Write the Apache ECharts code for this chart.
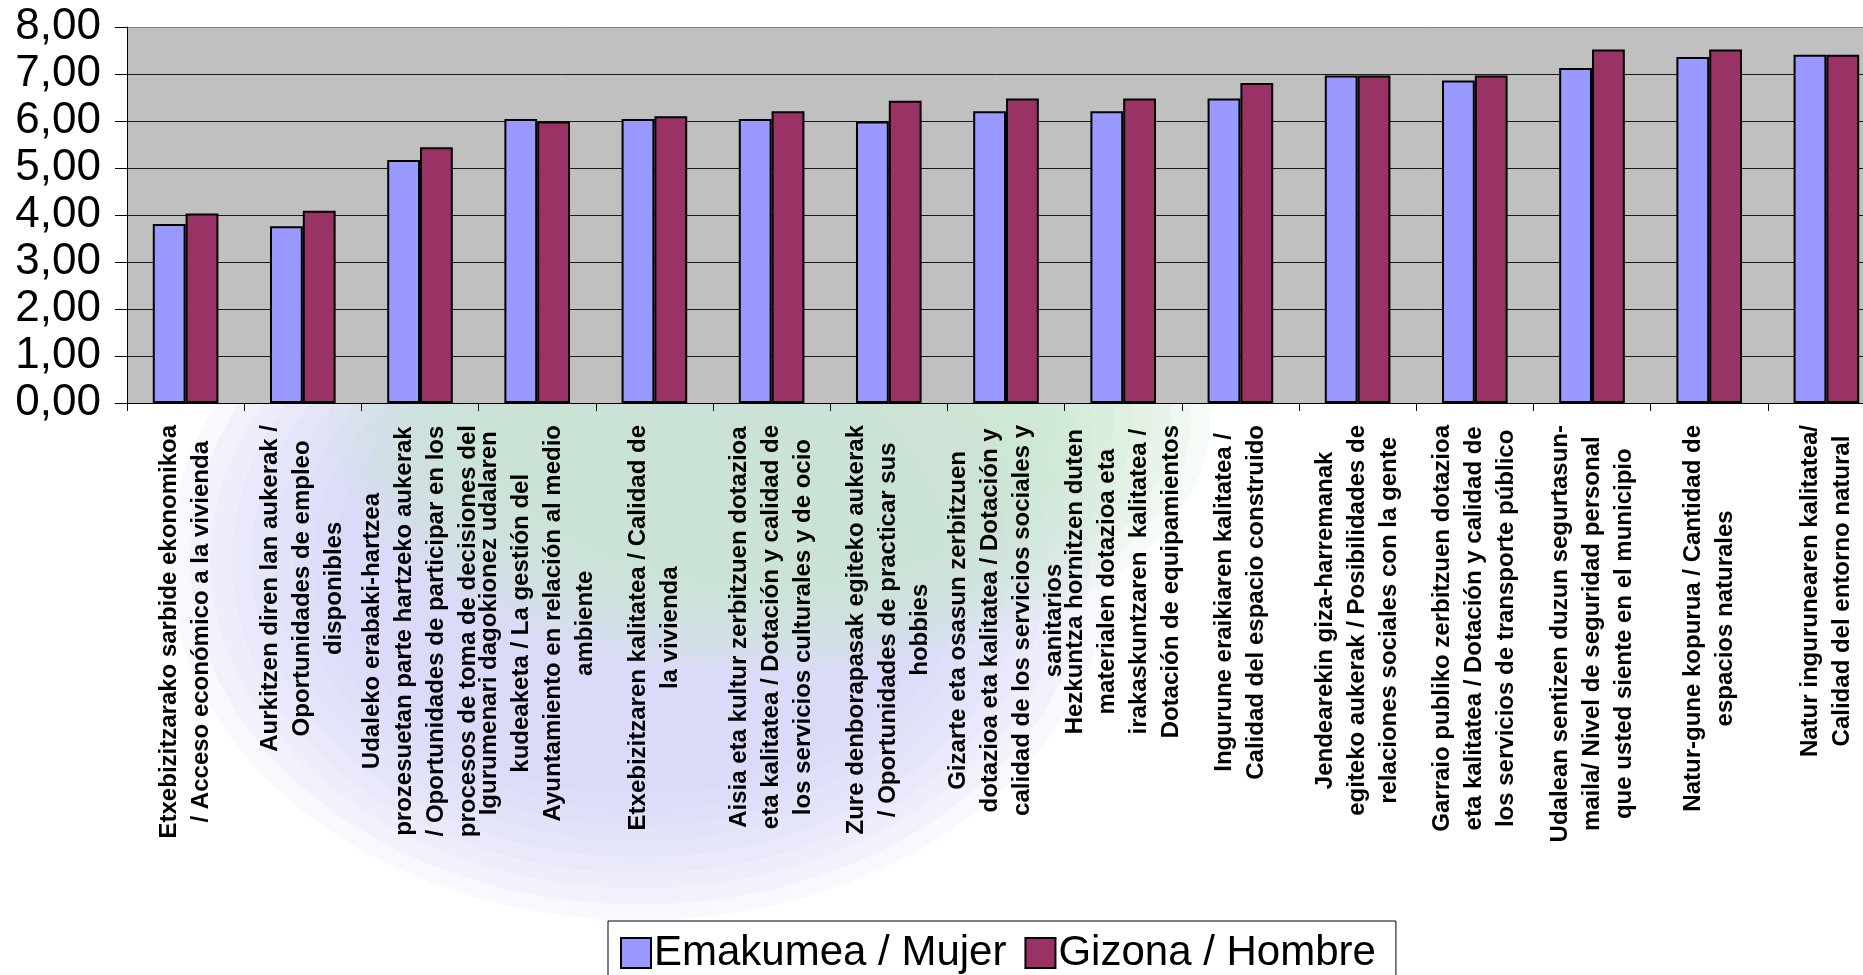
<!DOCTYPE html>
<html>
<head>
<meta charset="utf-8">
<script src="https://cdn.jsdelivr.net/npm/echarts@6/dist/echarts.min.js"></script>
<style>
  html, body { margin: 0; padding: 0; background: #ffffff; overflow: hidden; }
  #chart { width: 1863px; height: 975px; }
</style>
</head>
<body>
<div id="chart"></div>
<script>
// ---- Data ----
const categories = [
  "Etxebizitzarako sarbide ekonomikoa\n/ Acceso económico a la vivienda",
  "Aurkitzen diren lan aukerak /\nOportunidades de empleo\ndisponibles",
  "Udaleko erabaki-hartzea\nprozesuetan parte hartzeko aukerak\n/ Oportunidades de participar en los\nprocesos de toma de decisiones del",
  "Igurumenari dagokionez udalaren\nkudeaketa / La gestión del\nAyuntamiento en relación al medio\nambiente",
  "Etxebizitzaren kalitatea / Calidad de\nla vivienda",
  "Aisia eta kultur zerbitzuen dotazioa\neta kalitatea / Dotación y calidad de\nlos servicios culturales y de ocio",
  "Zure denborapasak egiteko aukerak\n/ Oportunidades de practicar sus\nhobbies",
  "Gizarte eta osasun zerbitzuen\ndotazioa eta kalitatea / Dotación y\ncalidad de los servicios sociales y\nsanitarios",
  "Hezkuntza hornitzen duten\nmaterialen dotazioa eta\nirakaskuntzaren  kalitatea /\nDotación de equipamientos",
  "Ingurune eraikiaren kalitatea /\nCalidad del espacio construido",
  "Jendearekin giza-harremanak\negiteko aukerak / Posibilidades de\nrelaciones sociales con la gente",
  "Garraio publiko zerbitzuen dotazioa\neta kalitatea / Dotación y calidad de\nlos servicios de transporte público",
  "Udalean sentizen duzun segurtasun-\nmaila/ Nivel de seguridad personal\nque usted siente en el municipio",
  "Natur-gune kopurua / Cantidad de\nespacios naturales",
  "Natur ingurunearen kalitatea/\nCalidad del entorno natural"
];
const seriesNames = ["Emakumea / Mujer", "Gizona / Hombre"];
const womenValues = [3.81, 3.76, 5.17, 6.04, 6.04, 6.04, 5.99, 6.21, 6.21, 6.48, 6.97, 6.86, 7.13, 7.36, 7.41];
const menValues   = [4.03, 4.09, 5.44, 5.99, 6.10, 6.21, 6.43, 6.48, 6.48, 6.81, 6.97, 6.97, 7.52, 7.52, 7.41];
const yMin = 0, yMax = 8, yStep = 1;

// ---- Chart ----
const chart = echarts.init(document.getElementById('chart'), null, { renderer: 'canvas' });
const FONT = 'Liberation Sans, Arial, sans-serif';

// decorative background watermark (soft stacked ellipses)
function stack(cx, cy, rx, ry, shrink, n, color, zBase) {
  const els = [];
  for (let i = 0; i < n; i++) {
    const k = 1 - shrink * i / (n - 1);
    els.push({
      type: 'ellipse', silent: true, z: zBase + i,
      shape: { cx: cx, cy: cy, rx: rx * k, ry: ry * k },
      style: { fill: color }
    });
  }
  return els;
}
const watermark = []
  .concat(stack(640, 560, 470, 360, 0.35, 9, 'rgba(214,214,250,0.16)', -140))
  .concat(stack(770, 420, 440, 250, 0.35, 9, 'rgba(200,232,210,0.17)', -120));

const option = {
  backgroundColor: '#ffffff',
  animation: false,
  graphic: { elements: watermark },
  legend: {
    show: true,
    left: 608,
    top: 921,
    orient: 'horizontal',
    padding: [10, 20, 10, 12],
    itemGap: 18,
    itemWidth: 30,
    itemHeight: 30,
    borderColor: '#000000',
    borderWidth: 1,
    backgroundColor: '#ffffff',
    icon: 'rect',
    textStyle: { fontFamily: FONT, fontSize: 42, color: '#000000', lineHeight: 44, padding: [0, 0, 0, -2] },
    data: seriesNames
  },
  grid: {
    left: 127,
    top: 27,
    right: -22,
    height: 376,
    containLabel: false,
    outerBoundsMode: 'none',
    show: true,
    backgroundColor: '#C0C0C0',
    borderWidth: 0
  },
  xAxis: {
    type: 'category',
    data: categories,
    boundaryGap: true,
    axisLine: { show: true, lineStyle: { color: '#000000', width: 1 } },
    axisTick: { show: true, inside: false, length: 8, alignWithLabel: false, interval: 0, lineStyle: { color: '#000000', width: 1 } },
    splitLine: { show: false },
    axisLabel: {
      interval: 0,
      rotate: 90,
      margin: 22,
      color: '#000000',
      fontFamily: FONT,
      fontSize: 24,
      fontWeight: 'bold',
      lineHeight: 32,
      hideOverlap: false,
      formatter: function (value) {
        return value.split('\n').map(function (l) { return '{c|' + l + '}'; }).join('\n');
      },
      rich: {
        c: { align: 'center', fontFamily: FONT, fontSize: 24, fontWeight: 'bold', lineHeight: 32, color: '#000000' }
      }
    }
  },
  yAxis: {
    type: 'value',
    min: yMin,
    max: yMax,
    interval: yStep,
    axisLine: { show: true, lineStyle: { color: '#000000', width: 1 } },
    axisTick: { show: true, inside: false, length: 12, lineStyle: { color: '#000000', width: 1 } },
    splitLine: {
      show: true,
      lineStyle: { color: ['#1a1a1a', '#1a1a1a', '#1a1a1a', '#1a1a1a', '#1a1a1a', '#1a1a1a', '#1a1a1a', '#1a1a1a', '#808080'], width: 1 }
    },
    axisLabel: {
      margin: 26,
      color: '#000000',
      fontFamily: FONT,
      fontSize: 44,
      formatter: function (v) { return v.toFixed(2).replace('.', ','); }
    }
  },
  series: [
    {
      name: seriesNames[0],
      type: 'bar',
      data: womenValues,
      barGap: '0%',
      barCategoryGap: '44%',
      itemStyle: { color: '#9999FF', borderColor: '#000000', borderWidth: 2 }
    },
    {
      name: seriesNames[1],
      type: 'bar',
      data: menValues,
      barGap: '0%',
      barCategoryGap: '44%',
      itemStyle: { color: '#993366', borderColor: '#000000', borderWidth: 2 }
    }
  ]
};
chart.setOption(option);
</script>
</body>
</html>
